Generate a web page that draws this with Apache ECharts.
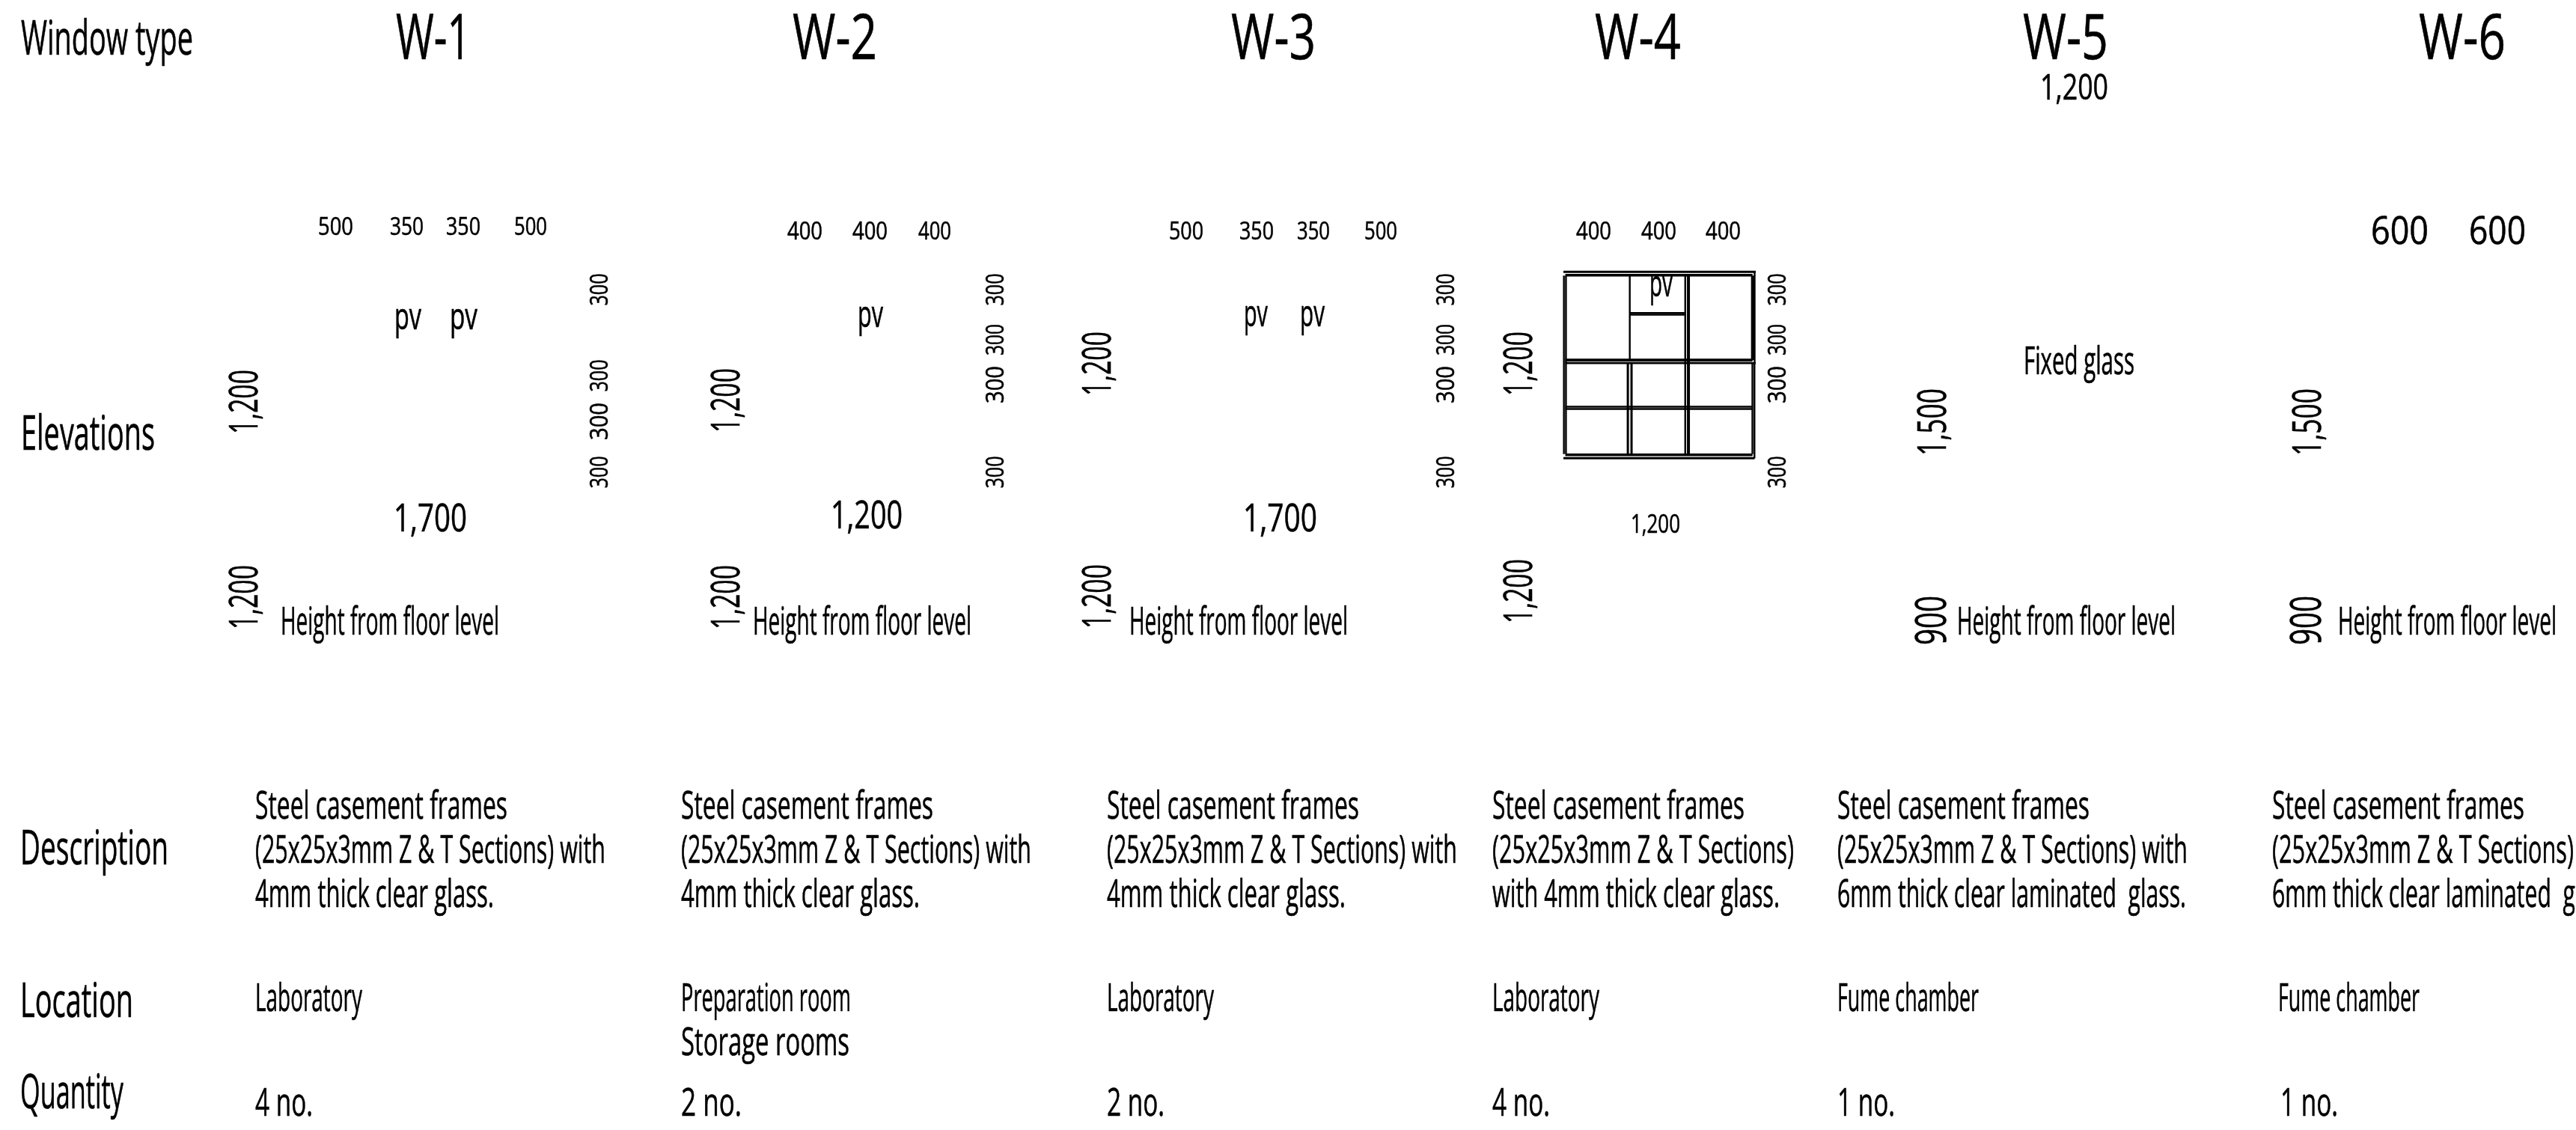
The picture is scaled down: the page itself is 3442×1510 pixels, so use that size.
<!DOCTYPE html>
<html><head><meta charset="utf-8">
<style>html,body{margin:0;padding:0;background:#fff}#c{width:3442px;height:1510px}</style>
<script src="https://cdn.jsdelivr.net/npm/echarts@6/dist/echarts.min.js"></script>
</head><body><div id="c"></div>
<script>
// ---- content ----
const rowLabels = ['Window type', 'Elevations', 'Description', 'Location', 'Quantity'];
const windowTypes = ['W-1', 'W-2', 'W-3', 'W-4', 'W-5', 'W-6'];
const descLine1 = 'Steel casement frames';
const descLine2 = ['(25x25x3mm Z & T Sections) with', '(25x25x3mm Z & T Sections) with', '(25x25x3mm Z & T Sections) with', '(25x25x3mm Z & T Sections)', '(25x25x3mm Z & T Sections) with', '(25x25x3mm Z & T Sections)'];
const descLine3 = ['4mm thick clear glass.', '4mm thick clear glass.', '4mm thick clear glass.', 'with 4mm thick clear glass.', '6mm thick clear laminated  glass.', '6mm thick clear laminated  glass.'];
const locations = ['Laboratory', 'Preparation room', 'Laboratory', 'Laboratory', 'Fume chamber', 'Fume chamber'];
const location2 = 'Storage rooms';
const quantities = ['4 no.', '2 no.', '2 no.', '4 no.', '1 no.', '1 no.'];
const heightNote = 'Height from floor level';
const fixedNote = 'Fixed glass';
const ventNote = 'pv';
// W-4 frame members in mm from the frame's top-left corner: x0, y0, x1, y1, weight
const w4Members = [
  [0, 6, 1200, 6, 3], [12, 27, 1180, 27, 3.5], [414, 269, 756, 269, 2.4], [414, 280, 756, 280, 2.4],
  [12, 570, 1180, 570, 4], [12, 589, 1200, 589, 2.4], [12, 868, 1180, 868, 2.4], [12, 882, 1180, 882, 2.4],
  [12, 1175, 1180, 1175, 3.5], [0, 1197, 1193, 1197, 3],
  [3, 30, 3, 1170, 2.4], [16, 30, 16, 1170, 2.4], [414, 30, 414, 570, 2.4], [402, 589, 402, 1170, 3],
  [425, 589, 425, 1170, 3], [760, 30, 760, 1170, 2.4], [780, 30, 780, 1170, 4], [1181, 30, 1181, 570, 4.5],
  [1193, 6, 1193, 589, 2.4], [1179, 589, 1179, 1170, 2.4], [1192, 589, 1192, 1197, 2.4]
];

// ---- layout (page pixels) ----
const FONT = '"Open Sans"';
const mctx = document.createElement('canvas').getContext('2d');
const placed = [];
function put(text, x, y, cap, width, rot) {
  const size = cap / 0.714;
  mctx.font = size + 'px ' + FONT;
  const m = mctx.measureText(text);
  const off = (m.fontBoundingBoxAscent - m.fontBoundingBoxDescent) / 2 - 0.125 * size;
  placed.push({ x: rot ? x - off : x, y: rot ? y : y - off, text, size, sx: width / m.width, rot: !!rot });
}
const colX = [341, 910, 1479, 1994, 2455, 3036];
// row labels
[[28, 72, 230], [28, 600, 179], [27, 1154, 198], [27, 1358, 151], [27, 1480, 138]].forEach((l, i) => put(rowLabels[i], l[0], l[1], 46, l[2]));
// headings
[[529, 100], [1059, 113], [1645, 113], [2131, 115], [2703, 114], [3232, 116]].forEach((l, i) => put(windowTypes[i], l[0], 77, 60, l[1]));
// description, location, quantity
const line2W = [468, 468, 468, 403, 468, 403], line3W = [319, 319, 319, 384, 466, 466];
colX.forEach((x, i) => {
  put(descLine1, x, 1093, 37, 337);
  put(descLine2[i], x, 1152, 37, line2W[i]);
  put(descLine3[i], x, 1211, 37, line3W[i]);
});
const locX = [341, 910, 1479, 1994, 2455, 3044], locW = [143, 227, 143, 143, 189, 189];
locX.forEach((x, i) => put(locations[i], x, 1350, 37, locW[i]));
put(location2, 910, 1409, 37, 225);
const qtyX = [341, 910, 1479, 1994, 2455, 3047], qtyW = [77, 81, 77, 77, 77, 77];
qtyX.forEach((x, i) => put(quantities[i], x, 1490, 37, qtyW[i]));
// horizontal dimensions
[[425, 47, '500'], [521, 45, '350'], [596, 46, '350'], [687, 44, '500']].forEach(l => put(l[2], l[0], 313, 23, l[1]));
[[1052, 47], [1139, 47], [1227, 44]].forEach(l => put('400', l[0], 319, 23, l[1]));
[[1562, 46, '500'], [1656, 46, '350'], [1733, 44, '350'], [1823, 44, '500']].forEach(l => put(l[2], l[0], 319, 23, l[1]));
[[2106, 47], [2193, 47], [2279, 47]].forEach(l => put('400', l[0], 319, 23, l[1]));
[[3168, 77], [3299, 76]].forEach(l => put('600', l[0], 325, 36, l[1]));
put('1,700', 526, 709, 36, 98); put('1,200', 1110, 705, 36, 96); put('1,700', 1661, 709, 36, 99);
put('1,200', 2179, 711, 25, 66); put('1,200', 2726, 132, 34, 91);
// vents and notes
[[527, 439, 36], [601, 439, 37], [1146, 436, 34], [1662, 435, 32], [1737, 435, 33], [2204, 395, 31]].forEach(l => put(ventNote, l[0], l[1], 35, l[2]));
put(fixedNote, 2704, 499, 36, 148);
[375, 1006, 1509, 2615, 3124].forEach(x => put(heightNote, x, 847, 37, 292));
// vertical dimensions
[[811, [387, 502, 563, 631], [43, 43, 50, 43]], [1340, [387, 454, 514, 631], [43, 42, 50, 43]],
 [1942, [387, 454, 514, 631], [43, 42, 50, 43]], [2385, [387, 454, 514, 631], [43, 42, 50, 43]]]
  .forEach(s => s[1].forEach((y, i) => put('300', s[0], y, 24, s[2][i], true)));
[[343, 537], [343, 798], [987, 535], [987, 798], [1483, 486], [1483, 797], [2046, 486], [2046, 790]]
  .forEach(l => put('1,200', l[0], l[1], 38, 86, true));
[2599, 3100].forEach(x => { put('1,500', x, 564, 38, 90, true); put('900', x, 829, 40, 66, true); });

const option = {
  animation: false,
  backgroundColor: '#fff',
  grid: [
    { left: 0, top: 0, width: 3442, height: 1510, show: false },
    { left: 2089, top: 362, width: 257, height: 251, show: false }
  ],
  xAxis: [
    { type: 'value', gridIndex: 0, min: 0, max: 3442, show: false },
    { type: 'value', gridIndex: 1, min: 0, max: 1200, show: false }
  ],
  yAxis: [
    { type: 'value', gridIndex: 0, min: 0, max: 1510, inverse: true, show: false },
    { type: 'value', gridIndex: 1, min: 0, max: 1200, inverse: true, show: false }
  ],
  series: [
    {
      type: 'custom', xAxisIndex: 1, yAxisIndex: 1, silent: true, clip: false, z: 1,
      encode: { x: [0, 2], y: [1, 3] },
      data: w4Members,
      renderItem: (p, api) => {
        const a = api.coord([api.value(0), api.value(1)]), b = api.coord([api.value(2), api.value(3)]);
        return { type: 'line', shape: { x1: a[0], y1: a[1], x2: b[0], y2: b[1] }, style: { stroke: '#000', lineWidth: api.value(4), fill: null } };
      }
    },
    {
      type: 'custom', xAxisIndex: 0, yAxisIndex: 0, silent: true, clip: false, z: 2,
      encode: { x: 0, y: 1 },
      data: placed.map(t => [t.x, t.y]),
      renderItem: (p, api) => {
        const t = placed[p.dataIndex], c = api.coord([api.value(0), api.value(1)]);
        return {
          type: 'text', x: c[0], y: c[1], scaleX: t.sx, scaleY: 1, rotation: t.rot ? Math.PI / 2 : 0,
          style: { text: t.text, fill: '#000', stroke: '#000', lineWidth: 0.6, font: t.size + 'px ' + FONT, textAlign: t.rot ? 'center' : 'left', textVerticalAlign: 'middle' }
        };
      }
    }
  ]
};
echarts.init(document.getElementById('c')).setOption(option);
</script></body></html>
